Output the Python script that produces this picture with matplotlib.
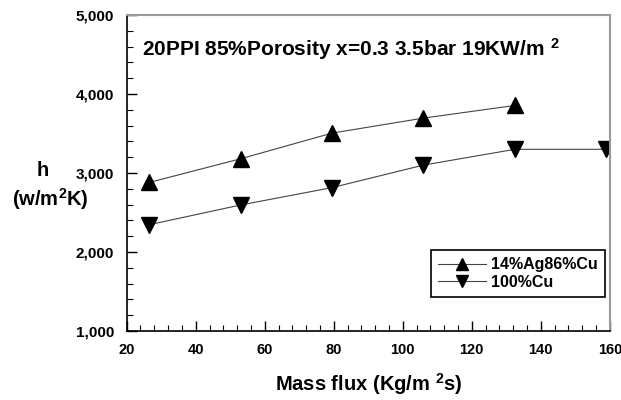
import matplotlib
matplotlib.use("Agg")
import matplotlib.pyplot as plt
from matplotlib.ticker import MultipleLocator, FuncFormatter

# ── Dados ───────────────────────────────────────────────────────────────────────
fluxo_agcu = [26.5, 53, 79.5, 106, 132.5]
h_agcu     = [2880, 3180, 3505, 3695, 3855]

fluxo_cu = [26.5, 53, 79.5, 106, 132.5, 159]
h_cu     = [2345, 2595, 2815, 3100, 3300, 3300]

rotulos = ["14%Ag86%Cu", "100%Cu"]
titulo  = "20PPI 85%Porosity x=0.3 3.5bar 19KW/m $^{2}$"

# ── Estilo ──────────────────────────────────────────────────────────────────────
plt.rcParams["font.family"] = ["Liberation Sans", "DejaVu Sans"]
plt.rcParams["font.weight"] = "bold"
plt.rcParams["mathtext.fontset"] = "custom"
plt.rcParams["mathtext.rm"] = "Liberation Sans:bold"
plt.rcParams["mathtext.bf"] = "Liberation Sans:bold"
plt.rcParams["mathtext.it"] = "Liberation Sans:bold"
plt.rcParams["mathtext.default"] = "rm"

fig = plt.figure(figsize=(6.21, 4.0), dpi=100)
ax = fig.add_axes([0.204, 0.1725, 0.778, 0.79])

cor_linha = "#444444"
ax.plot(fluxo_agcu, h_agcu, color=cor_linha, linewidth=0.8, marker="^",
        markersize=11, markerfacecolor="black", markeredgecolor="black",
        label=rotulos[0])
ax.plot(fluxo_cu, h_cu, color=cor_linha, linewidth=0.8, marker="v",
        markersize=11, markerfacecolor="black", markeredgecolor="black",
        label=rotulos[1])

ax.set_xlim(20, 160)
ax.set_ylim(1000, 5000)
ax.xaxis.set_major_locator(MultipleLocator(20))
ax.xaxis.set_minor_locator(MultipleLocator(4))
ax.yaxis.set_major_locator(MultipleLocator(1000))
ax.yaxis.set_minor_locator(MultipleLocator(200))
ax.yaxis.set_major_formatter(FuncFormatter(lambda v, p: f"{v:,.0f}"))

ax.tick_params(which="both", direction="in", top=False, right=False,
               pad=9, color="black")
ax.tick_params(axis="x", labelsize=10.5)
ax.tick_params(axis="y", labelsize=11)
ax.tick_params(which="major", length=7, width=1)
ax.tick_params(which="minor", length=4, width=0.8)

for lado in ["left", "bottom"]:
    ax.spines[lado].set_color("black")
    ax.spines[lado].set_linewidth(1.2)
for lado in ["top", "right"]:
    ax.spines[lado].set_color("#999999")
    ax.spines[lado].set_linewidth(1.5)

ax.text(0.031, 0.870, titulo, transform=ax.transAxes, fontsize=15,
        fontweight="bold", va="baseline", ha="left")

ax.set_xlabel("Mass flux (Kg/m $^{2}$s)", fontsize=14.5, fontweight="bold",
              labelpad=10)
fig.text(43 / 621, 1 - 171 / 400, "h", fontsize=14.5,
         fontweight="bold", ha="center", va="center")
fig.text(50 / 621, 1 - 199 / 400, "(w/m$^{2}$K)", fontsize=14.5,
         fontweight="bold", ha="center", va="center")

leg = ax.legend(loc="upper left", bbox_to_anchor=(0.63, 0.256),
                borderaxespad=0, fontsize=11.5, handlelength=3,
                handletextpad=0.3, labelspacing=0.15, frameon=True,
                fancybox=False, framealpha=1, borderpad=0.45,
                markerscale=0.85)
leg.get_frame().set_edgecolor("black")
leg.get_frame().set_linewidth(1.2)

fig.savefig("out.png", dpi=100)
